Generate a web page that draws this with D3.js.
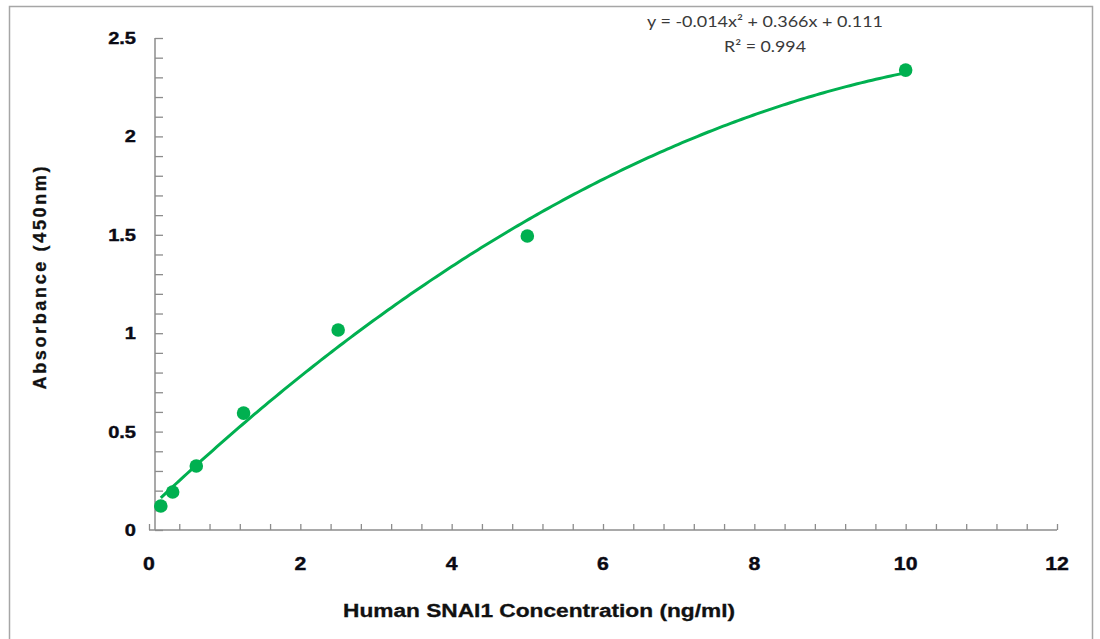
<!DOCTYPE html>
<html>
<head>
<meta charset="utf-8">
<script src="https://cdn.jsdelivr.net/npm/d3@7"></script>
<style>
  html, body { margin: 0; padding: 0; background: #fff; }
  svg { display: block; }
</style>
</head>
<body>
<svg id="chart" width="1100" height="639"></svg>
<script>
// ---- data ----
const concentrations = [0.156, 0.3125, 0.625, 1.25, 2.5, 5, 10];
const absorbance = [0.122, 0.193, 0.325, 0.594, 1.016, 1.494, 2.337];
const xTickValues = [0, 2, 4, 6, 8, 10, 12];
const yTickValues = [0, 0.5, 1, 1.5, 2, 2.5];
const yTickLabels = ["0", "0.5", "1", "1.5", "2", "2.5"];
const equationLines = ["y = -0.014x\u00B2 + 0.366x + 0.111", "R\u00B2 = 0.994"];
const xTitle = "Human SNAI1  Concentration (ng/ml)";
const yTitle = "Absorbance (450nm)";

const svg = d3.select("#chart");
const green = "#00b050";
const axisColor = "#8c8c8c";

// outer frame
svg.append("rect").attr("x", 9.5).attr("y", 6.5).attr("width", 1083).attr("height", 640)
  .attr("fill", "none").attr("stroke", "#a6a6a6").attr("stroke-width", 1.5);

const x = d3.scaleLinear().domain([0, 12]).range([149, 1057]);
const y = d3.scaleLinear().domain([0, 2.5]).range([530, 38]);
const yAxisX = 155;

// x axis line + minor ticks (inward)
const xAxisG = svg.append("g").attr("transform", `translate(0,${y(0)})`);
xAxisG.call(d3.axisBottom(x).tickValues(d3.range(0, 12.0001, 0.4)).tickSize(-6).tickFormat(""))
  .call(g => g.select(".domain").attr("stroke", axisColor).attr("stroke-width", 1.5).attr("d", `M${x(0)},0H${x(12)}`))
  .call(g => g.selectAll(".tick line").attr("stroke", axisColor).attr("stroke-width", 1.3));

// y axis line + ticks (inward)
const yAxisG = svg.append("g").attr("transform", `translate(${yAxisX},0)`);
yAxisG.call(d3.axisLeft(y).tickValues(d3.range(0, 2.5001, 0.1)).tickSize(-8).tickFormat(""))
  .call(g => g.select(".domain").attr("stroke", axisColor).attr("stroke-width", 1.5).attr("d", `M0,${y(2.5)}V${y(0)}`))
  .call(g => g.selectAll(".tick line").attr("stroke", axisColor).attr("stroke-width", 1.3));

// tick labels
const tickFont = "'Liberation Sans', Arial, sans-serif";
svg.append("g").selectAll("text").data(xTickValues).join("text")
  .attr("transform", d => `translate(${x(d)},570) scale(1.18,1)`)
  .attr("text-anchor", "middle")
  .attr("font-family", tickFont).attr("font-weight", "bold").attr("font-size", 18)
  .attr("fill", "#0a0a14").attr("stroke", "#0a0a14").attr("stroke-width", 0.4)
  .text(d => d);

svg.append("g").selectAll("text").data(yTickValues).join("text")
  .attr("transform", d => `translate(136,${y(d) + 6}) scale(1.18,1)`)
  .attr("text-anchor", "end")
  .attr("font-family", tickFont).attr("font-weight", "bold").attr("font-size", 17)
  .attr("fill", "#0a0a14").attr("stroke", "#0a0a14").attr("stroke-width", 0.4)
  .text((d, i) => yTickLabels[i]);

// axis titles
svg.append("text")
  .attr("x", 539).attr("y", 617)
  .attr("text-anchor", "middle")
  .attr("font-family", tickFont).attr("font-weight", "bold").attr("font-size", 18)
  .attr("fill", "#111").attr("stroke", "#111").attr("stroke-width", 0.3)
  .attr("textLength", 392).attr("lengthAdjust", "spacingAndGlyphs")
  .text(xTitle);

svg.append("text")
  .attr("transform", "translate(46,278) rotate(-90)")
  .attr("text-anchor", "middle")
  .attr("font-family", tickFont).attr("font-weight", "bold").attr("font-size", 18)
  .attr("fill", "#111").attr("stroke", "#111").attr("stroke-width", 0.3)
  .attr("textLength", 223).attr("lengthAdjust", "spacing")
  .text(yTitle);

// quadratic least-squares trendline (as Excel computes it)
function quadFit(xs, ys) {
  let S = [0, 0, 0, 0, 0], T = [0, 0, 0];
  xs.forEach((xi, i) => {
    for (let k = 0; k < 5; k++) S[k] += Math.pow(xi, k);
    for (let k = 0; k < 3; k++) T[k] += ys[i] * Math.pow(xi, k);
  });
  const M = [[S[0], S[1], S[2], T[0]], [S[1], S[2], S[3], T[1]], [S[2], S[3], S[4], T[2]]];
  for (let i = 0; i < 3; i++) {
    let p = i;
    for (let r = i + 1; r < 3; r++) if (Math.abs(M[r][i]) > Math.abs(M[p][i])) p = r;
    [M[i], M[p]] = [M[p], M[i]];
    for (let r = 0; r < 3; r++) {
      if (r === i) continue;
      const f = M[r][i] / M[i][i];
      for (let c = i; c < 4; c++) M[r][c] -= f * M[i][c];
    }
  }
  return [M[0][3] / M[0][0], M[1][3] / M[1][1], M[2][3] / M[2][2]];
}
const coef = quadFit(concentrations, absorbance);
const xMin = d3.min(concentrations), xMax = d3.max(concentrations);
const curveXs = d3.range(0, 201).map(i => xMin + (xMax - xMin) * i / 200);
const line = d3.line()
  .x(d => x(d))
  .y(d => y(coef[0] + coef[1] * d + coef[2] * d * d));
svg.append("path").datum(curveXs)
  .attr("d", line).attr("fill", "none")
  .attr("stroke", green).attr("stroke-width", 3);

// data points
svg.append("g").selectAll("circle").data(concentrations).join("circle")
  .attr("cx", d => x(d)).attr("cy", (d, i) => y(absorbance[i]))
  .attr("r", 6.8).attr("fill", green);

// equation text
const eqFont = "Lato, 'Open Sans', sans-serif";
const eqLens = [236, 82];
const eqY = [27, 52];
svg.append("g").selectAll("text").data(equationLines).join("text")
  .attr("x", 765).attr("y", (d, i) => eqY[i])
  .attr("text-anchor", "middle")
  .attr("font-family", eqFont).attr("font-size", 15)
  .attr("fill", "#3a3a3a")
  .attr("textLength", (d, i) => eqLens[i]).attr("lengthAdjust", "spacingAndGlyphs")
  .text(d => d);
</script>
</body>
</html>
